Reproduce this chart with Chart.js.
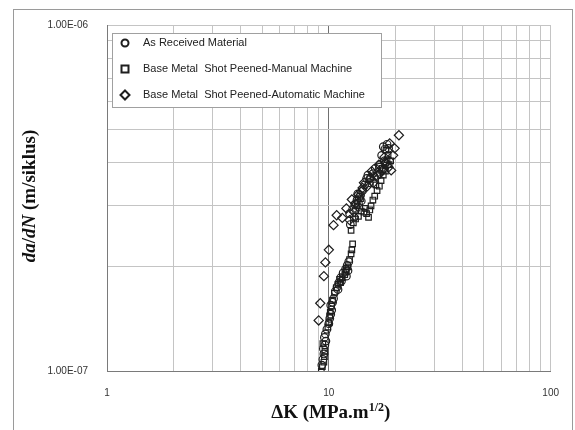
<!DOCTYPE html>
<html lang="en">
<head>
<meta charset="UTF-8">
<title>da/dN vs Delta K</title>
<script src="https://cdn.jsdelivr.net/npm/chart.js"></script>
<style>
  html, body { margin: 0; padding: 0; background: #fff; }
  #wrap { position: relative; width: 575px; height: 430px; overflow: hidden; }
  #frame { position: absolute; left: 13px; top: 9px; width: 558px; height: 440px; border: 1px solid #9a9a9a; }
  #chartBox { position: absolute; left: 0; top: 0; width: 575px; height: 430px; }
</style>
</head>
<body>
<div id="wrap">
  <div id="frame"></div>
  <div id="chartBox"><canvas id="crackChart"></canvas></div>
</div>
<script>
// Delta K (MPa.m^1/2) and da/dN (m/cycle)
const seriesNames = [
  'As Received Material',
  'Base Metal  Shot Peened-Manual Machine',
  'Base Metal  Shot Peened-Automatic Machine'
];

const asReceivedK = [9.3, 9.4, 9.5, 9.45, 9.6, 9.7, 9.65, 9.8, 10.0, 10.1, 10.2, 10.3, 10.2, 10.5, 10.7, 10.9, 11.1, 11.3, 11.0, 11.6, 11.9, 12.1, 12.3, 12.0, 12.5, 12.4, 12.8, 13.1, 13.4, 13.0, 13.7, 13.9, 14.2, 14.5, 14.8, 15.0, 15.4, 15.8, 16.2, 16.6, 17.0, 17.3, 17.6, 17.9, 18.3, 18.6,
  9.55, 10.4, 11.4, 12.2, 13.3, 13.6, 14.0, 13.5, 15.2, 16.0, 16.9, 17.8, 18.0];
const asReceivedRate = [1.04e-7, 1.08e-7, 1.12e-7, 1.16e-7, 1.19e-7, 1.22e-7, 1.28e-7, 1.32e-7, 1.37e-7, 1.42e-7, 1.46e-7, 1.50e-7, 1.55e-7, 1.62e-7, 1.70e-7, 1.75e-7, 1.80e-7, 1.86e-7, 1.72e-7, 1.92e-7, 1.97e-7, 2.02e-7, 2.07e-7, 1.88e-7, 2.65e-7, 2.85e-7, 2.93e-7, 3.03e-7, 3.12e-7, 2.78e-7, 3.18e-7, 3.22e-7, 3.32e-7, 3.45e-7, 3.60e-7, 3.68e-7, 3.62e-7, 3.72e-7, 3.85e-7, 3.75e-7, 3.95e-7, 4.20e-7, 4.45e-7, 4.38e-7, 4.52e-7, 4.40e-7,
  1.25e-7, 1.58e-7, 1.82e-7, 1.95e-7, 2.95e-7, 3.05e-7, 3.10e-7, 3.25e-7, 3.50e-7, 3.65e-7, 3.88e-7, 4.05e-7, 3.98e-7];

const manualK = [9.25, 9.35, 9.5, 9.55, 9.6, 9.9, 10.0, 10.15, 10.3, 10.4, 10.6, 10.8, 11.0, 11.2, 11.5, 11.8, 12.0, 12.2, 12.4, 12.6, 12.7, 12.8, 12.6, 12.9, 13.2, 13.6, 14.0, 14.4, 14.8, 15.1, 15.5, 15.8, 16.1, 16.5, 16.9, 17.2, 17.6, 18.0, 18.3, 18.7, 19.0, 18.1,
  9.4, 10.1, 11.3, 11.9, 13.4, 13.9, 14.6, 15.3, 16.3, 17.4, 18.5];
const manualRate = [1.00e-7, 1.03e-7, 1.06e-7, 1.10e-7, 1.14e-7, 1.34e-7, 1.38e-7, 1.48e-7, 1.54e-7, 1.60e-7, 1.68e-7, 1.74e-7, 1.78e-7, 1.84e-7, 1.86e-7, 1.90e-7, 1.96e-7, 2.00e-7, 2.10e-7, 2.18e-7, 2.24e-7, 2.33e-7, 2.55e-7, 2.68e-7, 2.75e-7, 2.80e-7, 2.90e-7, 2.88e-7, 2.85e-7, 2.78e-7, 3.00e-7, 3.12e-7, 3.20e-7, 3.32e-7, 3.42e-7, 3.55e-7, 3.68e-7, 3.78e-7, 4.08e-7, 3.95e-7, 4.05e-7, 4.35e-7,
  1.20e-7, 1.44e-7, 1.80e-7, 1.93e-7, 3.00e-7, 3.15e-7, 2.95e-7, 2.92e-7, 3.45e-7, 3.85e-7, 4.20e-7];

const automaticK = [9.0, 9.15, 9.5, 9.65, 10.0, 10.5, 10.85, 11.5, 12.4, 12.0, 12.7, 13.2, 13.6, 14.0, 14.4, 14.9, 15.4, 15.9, 16.5, 17.0, 17.4, 18.1, 18.6, 19.1, 19.5, 18.8, 19.8, 20.7,
  13.0, 14.2, 15.6, 16.8, 17.8];
const automaticRate = [1.40e-7, 1.57e-7, 1.88e-7, 2.06e-7, 2.24e-7, 2.64e-7, 2.82e-7, 2.77e-7, 2.73e-7, 2.95e-7, 3.13e-7, 3.05e-7, 3.24e-7, 3.30e-7, 3.50e-7, 3.42e-7, 3.60e-7, 3.50e-7, 3.66e-7, 3.72e-7, 3.80e-7, 4.00e-7, 3.88e-7, 3.80e-7, 4.20e-7, 4.55e-7, 4.40e-7, 4.80e-7,
  2.88e-7, 3.38e-7, 3.78e-7, 3.95e-7, 4.15e-7];

const xTickLabels = ['1', '10', '100'];
const yTickLabels = ['1.00E-07', '1.00E-06'];

const markerStyles = ['circle', 'rect', 'rectRot'];

function toPoints(xs, ys) {
  return xs.map((x, i) => ({ x: x, y: ys[i] }));
}

function isDecade(v) {
  const l = Math.log10(v);
  return Math.abs(l - Math.round(l)) < 1e-6;
}

// gridlines at 1..9 of each decade
function minorTicks(min, max) {
  const out = [];
  for (let d = min; d < max * 0.999; d *= 10) {
    for (let k = 1; k < 10; k++) out.push({ value: d * k });
  }
  out.push({ value: max });
  return out;
}

const inkColor = '#1e1e1e';

// legend box drawn inside the plot, top left
const boxLegend = {
  id: 'boxLegend',
  afterDraw(chart) {
    const ctx = chart.ctx;
    const a = chart.chartArea;
    const bx = a.left + 5, by = a.top + 8, bw = 269, bh = 74;
    ctx.save();
    ctx.fillStyle = '#fff';
    ctx.strokeStyle = '#a0a0a0';
    ctx.lineWidth = 1;
    ctx.fillRect(bx, by, bw, bh);
    ctx.strokeRect(bx + 0.5, by + 0.5, bw, bh);
    ctx.font = '11px "Liberation Sans", Arial, sans-serif';
    ctx.textBaseline = 'middle';
    seriesNames.forEach((name, i) => {
      const my = by + 10 + i * 26;
      const mx = bx + 13;
      ctx.strokeStyle = inkColor;
      ctx.lineWidth = 2;
      ctx.beginPath();
      if (markerStyles[i] === 'circle') {
        ctx.arc(mx, my, 3.5, 0, Math.PI * 2);
      } else if (markerStyles[i] === 'rect') {
        ctx.rect(mx - 3.5, my - 3.5, 7, 7);
      } else {
        ctx.moveTo(mx, my - 4.5);
        ctx.lineTo(mx + 4.5, my);
        ctx.lineTo(mx, my + 4.5);
        ctx.lineTo(mx - 4.5, my);
        ctx.closePath();
      }
      ctx.stroke();
      ctx.fillStyle = '#222';
      ctx.fillText(name, bx + 31, my);
    });
    ctx.restore();
  }
};

// axis titles with italic parts and a superscript
const axisTitles = {
  id: 'axisTitles',
  afterDraw(chart) {
    const ctx = chart.ctx;
    const a = chart.chartArea;
    ctx.save();
    ctx.fillStyle = '#111';
    ctx.textBaseline = 'alphabetic';

    // x title
    const f = 'bold 19px "Liberation Serif", "Times New Roman", serif';
    const fs = 'bold 12px "Liberation Serif", "Times New Roman", serif';
    const p1 = '\u0394K (MPa.m', p2 = '1/2', p3 = ')';
    ctx.font = f;
    const w1 = ctx.measureText(p1).width, w3 = ctx.measureText(p3).width;
    ctx.font = fs;
    const w2 = ctx.measureText(p2).width;
    let x = (a.left + a.right) / 2 + 2 - (w1 + w2 + w3) / 2;
    const y = 418;
    ctx.font = f; ctx.fillText(p1, x, y); x += w1;
    ctx.font = fs; ctx.fillText(p2, x, y - 7); x += w2;
    ctx.font = f; ctx.fillText(p3, x, y);

    // y title, rotated
    const parts = [
      ['da', 'italic bold 19px "Liberation Serif", "Times New Roman", serif'],
      ['/', 'bold 19px "Liberation Serif", "Times New Roman", serif'],
      ['dN', 'italic bold 19px "Liberation Serif", "Times New Roman", serif'],
      [' (m/siklus)', 'bold 19px "Liberation Serif", "Times New Roman", serif']
    ];
    let total = 0;
    parts.forEach(p => { ctx.font = p[1]; total += ctx.measureText(p[0]).width; });
    ctx.translate(35, (a.top + a.bottom) / 2 - 2);
    ctx.rotate(-Math.PI / 2);
    let px = -total / 2;
    parts.forEach(p => {
      ctx.font = p[1];
      ctx.fillText(p[0], px, 0);
      px += ctx.measureText(p[0]).width;
    });
    ctx.restore();
  }
};

const ctx = document.getElementById('crackChart').getContext('2d');
new Chart(ctx, {
  type: 'scatter',
  data: {
    datasets: [
      { label: seriesNames[0], data: toPoints(asReceivedK, asReceivedRate), pointStyle: markerStyles[0], pointRadius: 3.8 },
      { label: seriesNames[1], data: toPoints(manualK, manualRate), pointStyle: markerStyles[1], pointRadius: 3.9 },
      { label: seriesNames[2], data: toPoints(automaticK, automaticRate), pointStyle: markerStyles[2], pointRadius: 4.6 }
    ].map(d => Object.assign(d, {
      backgroundColor: 'rgba(0,0,0,0)',
      borderColor: inkColor,
      borderWidth: 1.2,
      pointHoverRadius: d.pointRadius
    }))
  },
  options: {
    responsive: true,
    maintainAspectRatio: false,
    animation: false,
    layout: { padding: { top: 20, right: 20, left: 0, bottom: 0 } },
    plugins: {
      legend: { display: false },
      tooltip: { enabled: false }
    },
    scales: {
      x: {
        type: 'logarithmic',
        min: 1,
        max: 100,
        afterBuildTicks(scale) { scale.ticks = minorTicks(1, 100); },
        afterFit(scale) { scale.height = 59; },
        ticks: {
          autoSkip: false,
          maxRotation: 0,
          padding: 16,
          color: '#333',
          font: { family: '"Liberation Sans", Arial, sans-serif', size: 10 },
          callback(value) {
            if (!isDecade(value)) return '';
            return xTickLabels[Math.round(Math.log10(value))];
          }
        },
        grid: {
          drawTicks: false,
          color: c => (c.tick && Math.abs(c.tick.value - 10) < 1e-6) ? '#707070' : '#c4c4c4',
          lineWidth: 1
        },
        border: { display: true, color: '#7a7a7a', width: 1 }
      },
      y: {
        type: 'logarithmic',
        min: 1e-7,
        max: 1e-6,
        afterBuildTicks(scale) { scale.ticks = minorTicks(1e-7, 1e-6); },
        afterFit(scale) { scale.width = 107; },
        ticks: {
          autoSkip: false,
          padding: 19,
          color: '#333',
          font: { family: '"Liberation Sans", Arial, sans-serif', size: 10 },
          callback(value) {
            if (!isDecade(value)) return '';
            return yTickLabels[Math.round(Math.log10(value)) + 7];
          }
        },
        grid: {
          drawTicks: false,
          color: '#c4c4c4',
          lineWidth: 1
        },
        border: { display: true, color: '#7a7a7a', width: 1 }
      }
    }
  },
  plugins: [boxLegend, axisTitles]
});
</script>
</body>
</html>
